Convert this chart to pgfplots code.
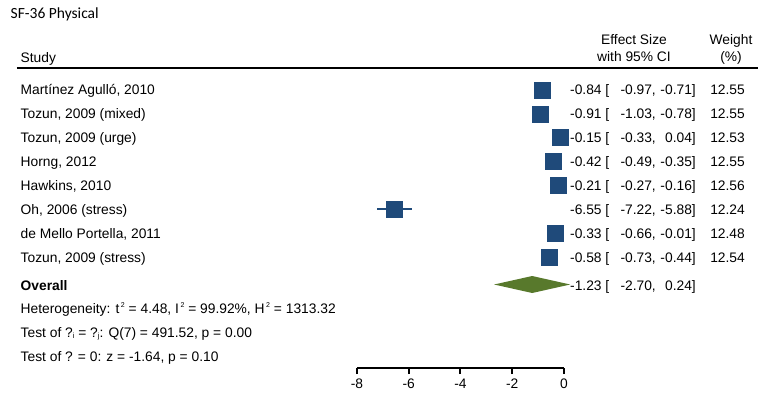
\documentclass[border=0pt]{standalone}
\usepackage{fontspec}
\setmainfont{Liberation Sans}
\newfontfamily\titlefont{Carlito}
\usepackage{pgfplots}
\pgfplotsset{compat=1.18}
\usepackage{pgfplotstable}
\definecolor{sqblue}{RGB}{31,74,122}
\definecolor{dgreen}{RGB}{88,121,44}
\newcommand\sups[1]{\hspace{1.6pt}\raisebox{0.85ex}{\fontsize{7}{8}\selectfont #1}}
\newcommand\subs[1]{\raisebox{-0.15ex}{\fontsize{7.5}{8}\selectfont #1}}
\newcommand\row[6]{%
  \node[anchor=base west, inner sep=0pt] at (axis cs:-21.005,-#1) {#2};
  \node[anchor=base east, inner sep=0pt] at (axis cs:1.758,-#1) {#3\ [};
  \node[anchor=base east, inner sep=0pt] at (axis cs:3.556,-#1) {#4,};
  \node[anchor=base east, inner sep=0pt] at (axis cs:5.101,-#1) {#5]};
  \node[anchor=base east, inner sep=0pt] at (axis cs:6.995,-#1) {#6};}
\pgfplotstableread{
es     y       em    ep
-0.84  -90.0   0.13  0.13
-0.91  -113.9  0.12  0.13
-0.15  -137.7  0.18  0.19
-0.42  -161.6  0.07  0.07
-0.21  -185.4  0.06  0.05
-6.55  -209.3  0.67  0.67
-0.33  -233.2  0.33  0.32
-0.58  -257.0  0.15  0.14
}\studies
\begin{document}
\begin{tikzpicture}[font=\fontsize{13.8pt}{16pt}\selectfont]
\begin{axis}[
  scale only axis, width=207pt, height=299pt,
  xmin=-8, xmax=0, ymin=-368, ymax=-69,
  clip=false,
  axis x line=bottom, axis y line=none,
  x axis line style={-, line width=2pt},
  xtick={-8,-6,-4,-2,0},
  xticklabels={-8,-6,-4,-2,0},
  tick align=outside,
  major tick length=6pt,
  every tick/.style={line width=2pt, black},
  xticklabel style={anchor=base, inner sep=0pt, yshift=-14pt},
]
% header rule
\addplot[line width=2pt, black] coordinates {(-21.14,-68.5) (7.498,-68.5)};
% studies
\addplot[only marks, mark=square*, mark size=8pt, color=sqblue,
  mark options={draw=none, fill=sqblue},
  error bars/.cd, x dir=both, x explicit,
  error bar style={line width=2pt, sqblue}, error mark=none]
  table[x=es, y=y, x error plus=ep, x error minus=em] {\studies};
% overall diamond
\addplot[fill=dgreen, draw=none] coordinates {(-2.70,-284.5) (-1.23,-276) (0.24,-284.5) (-1.23,-293)} -- cycle;

% texts
\node[anchor=base west, inner sep=0pt, font=\titlefont\fontsize{15.5pt}{18pt}\selectfont] at (axis cs:-21.39,-18.5) {SF-36 Physical};
\node[anchor=base west, inner sep=0pt] at (axis cs:-21.005,-63) {Study};
\node[anchor=base, inner sep=0pt] at (axis cs:2.705,-45) {Effect Size};
\node[anchor=base, inner sep=0pt] at (axis cs:2.705,-62) {with 95\% CI};
\node[anchor=base, inner sep=0pt] at (axis cs:6.454,-45) {Weight};
\node[anchor=base, inner sep=0pt] at (axis cs:6.454,-62) {(\%)};

\row{95.0}{Martínez Agulló, 2010}{-0.84}{-0.97}{-0.71}{12.55}
\row{118.9}{Tozun, 2009 (mixed)}{-0.91}{-1.03}{-0.78}{12.55}
\row{142.7}{Tozun, 2009 (urge)}{-0.15}{-0.33}{0.04}{12.53}
\row{166.6}{Horng, 2012}{-0.42}{-0.49}{-0.35}{12.55}
\row{190.4}{Hawkins, 2010}{-0.21}{-0.27}{-0.16}{12.56}
\row{214.3}{Oh, 2006 (stress)}{-6.55}{-7.22}{-5.88}{12.24}
\row{238.2}{de Mello Portella, 2011}{-0.33}{-0.66}{-0.01}{12.48}
\row{262.0}{Tozun, 2009 (stress)}{-0.58}{-0.73}{-0.44}{12.54}

\node[anchor=base west, inner sep=0pt, font=\fontsize{13.8pt}{16pt}\selectfont\bfseries] at (axis cs:-21.005,-290) {Overall};
\node[anchor=base east, inner sep=0pt] at (axis cs:1.758,-290) {-1.23 [};
\node[anchor=base east, inner sep=0pt] at (axis cs:3.556,-290) {-2.70,};
\node[anchor=base east, inner sep=0pt] at (axis cs:5.101,-290) {0.24]};
\node[anchor=base west, inner sep=0pt] at (axis cs:-21.005,-313.5) {Heterogeneity: t\sups{2} = 4.48, I\sups{2} = 99.92\%, H\sups{2} = 1313.32};
\node[anchor=base west, inner sep=0pt] at (axis cs:-21.005,-337.5) {Test of ?\subs{i} = ?\subs{j}: Q(7) = 491.52, p = 0.00};
\node[anchor=base west, inner sep=0pt] at (axis cs:-21.005,-361.5) {Test of ? = 0: z = -1.64, p = 0.10};

\coordinate (BL) at (axis cs:-21.797,-395);
\coordinate (TR) at (axis cs:7.807,0);
\end{axis}
\pgfresetboundingbox
\path[use as bounding box] (BL) rectangle (TR);
\end{tikzpicture}
\end{document}
